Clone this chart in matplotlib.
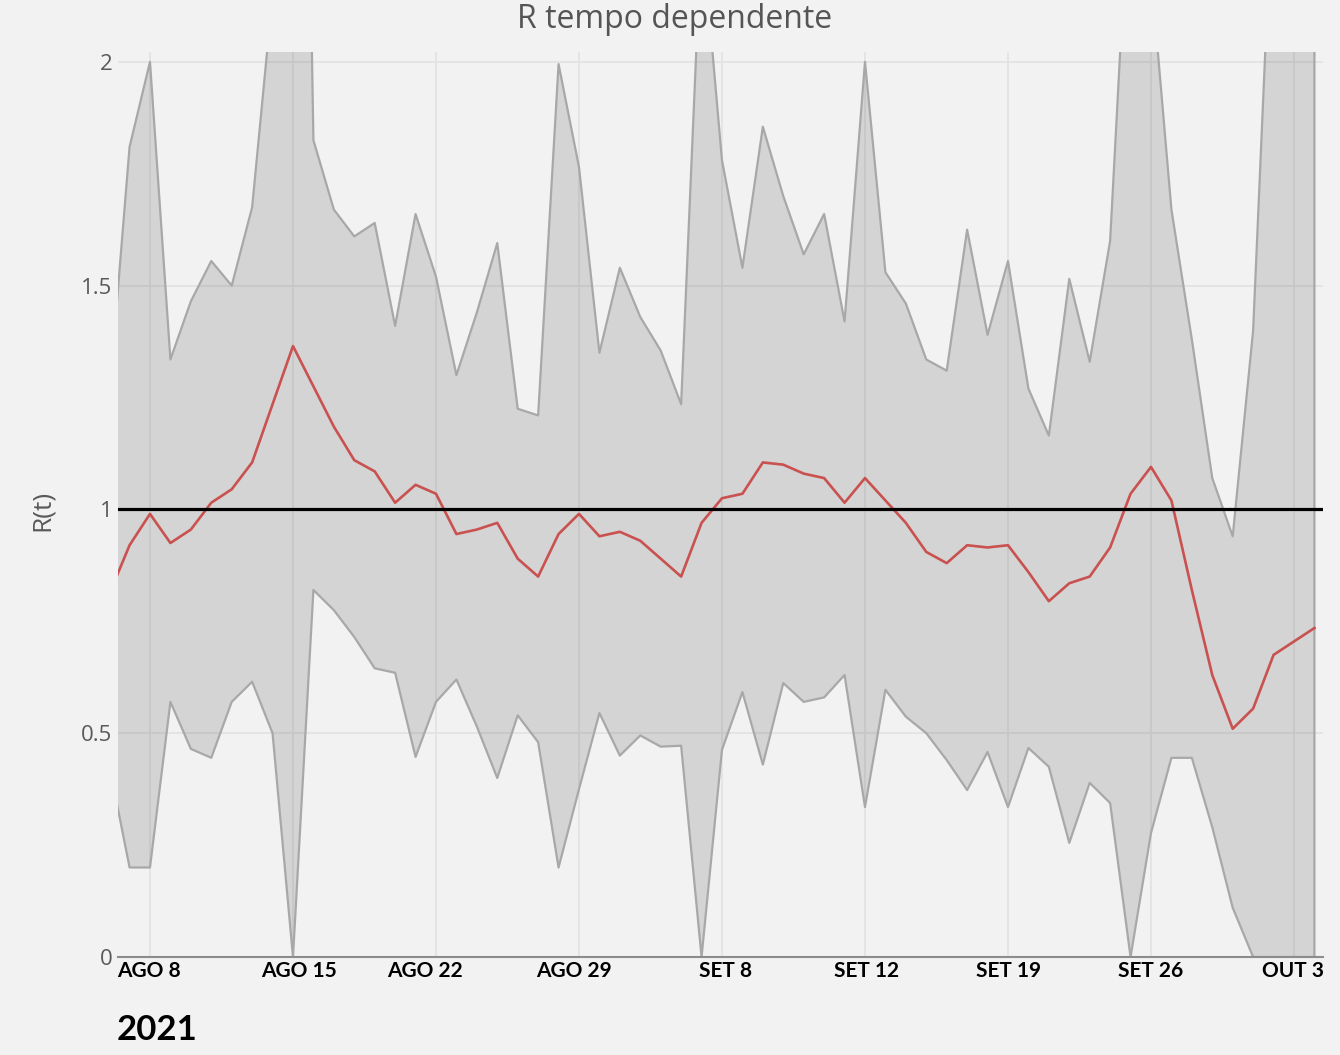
import matplotlib.pyplot as plt
import matplotlib.transforms as mtransforms
import numpy as np

# day 0 = 8 Aug 2021
days = np.arange(-2, 58)

r_t = [0.81, 0.92, 0.99, 0.925, 0.955, 1.015, 1.045, 1.105, 1.235, 1.365,
       1.275, 1.185, 1.11, 1.085, 1.015, 1.055, 1.035, 0.945, 0.955, 0.97,
       0.89, 0.85, 0.945, 0.99, 0.94, 0.95, 0.93, 0.89, 0.85, 0.97,
       1.025, 1.035, 1.105, 1.10, 1.08, 1.07, 1.015, 1.07, 1.02, 0.97,
       0.905, 0.88, 0.92, 0.915, 0.92, 0.86, 0.795, 0.835, 0.85, 0.915,
       1.035, 1.095, 1.02, 0.82, 0.63, 0.51, 0.555, 0.675, 0.705, 0.735]

r_upper = [1.25, 1.81, 2.00, 1.335, 1.465, 1.555, 1.50, 1.675, 2.15, 4.5,
           1.825, 1.67, 1.61, 1.64, 1.41, 1.66, 1.52, 1.30, 1.44, 1.595,
           1.225, 1.21, 1.995, 1.765, 1.35, 1.54, 1.43, 1.355, 1.235, 2.3,
           1.78, 1.54, 1.855, 1.70, 1.57, 1.66, 1.42, 2.0, 1.53, 1.46,
           1.335, 1.31, 1.625, 1.39, 1.555, 1.27, 1.165, 1.515, 1.33, 1.60,
           2.46, 2.2, 1.67, 1.38, 1.07, 0.94, 1.40, 2.45, 2.7, 2.9]

r_lower = [0.43, 0.20, 0.20, 0.57, 0.465, 0.445, 0.57, 0.615, 0.50, 0.0,
           0.82, 0.775, 0.715, 0.645, 0.635, 0.447, 0.57, 0.62, 0.515, 0.40,
           0.54, 0.48, 0.20, 0.375, 0.545, 0.45, 0.495, 0.47, 0.472, 0.0,
           0.463, 0.592, 0.43, 0.612, 0.57, 0.58, 0.63, 0.335, 0.597, 0.537,
           0.50, 0.44, 0.373, 0.458, 0.335, 0.467, 0.425, 0.255, 0.389, 0.344,
           0.0, 0.277, 0.445, 0.445, 0.29, 0.11, 0.0, 0.0, 0.0, 0.0]

tick_days = [0, 7, 14, 21, 28, 35, 42, 49, 56]
tick_labels = ["AGO 8", "AGO 15", "AGO 22", "AGO 29", "SET 8",
               "SET 12", "SET 19", "SET 26", "OUT 3"]
# the date labels were placed by hand, a few pixels off their gridlines
label_shift_px = [-1, 5.5, -11, -5.5, 4, 2, 1, 0, -1]
y_ticks = [0, 0.5, 1, 1.5, 2]
y_tick_labels = ["0", "0.5", "1", "1.5", "2"]

bg = "#f2f2f2"
W, H = 1340, 1055
fig = plt.figure(figsize=(W / 100, H / 100), dpi=100, facecolor=bg)
ax = fig.add_axes([118 / W, (H - 957) / H, (1323 - 118) / W, (957 - 52) / H])
ax.set_facecolor(bg)

ax.fill_between(days, r_lower, r_upper, facecolor=(0, 0, 0, 0.12),
                edgecolor="#a8a8a8", lw=1.6, zorder=2)
ax.plot(days, r_t, color="#c9514f", lw=1.9, zorder=3)
ax.axhline(1, color="black", lw=2.3, zorder=4)

ax.set_xlim(-1.566, 57.42)
ax.set_ylim(0, 2.022)
ax.set_axisbelow(True)
ax.grid(True, color="#e2e2e2", lw=1.2)

ax.set_xticks(tick_days, tick_labels, fontfamily="Lato", fontweight="bold",
              fontsize=15, color="black")
ax.set_yticks(y_ticks, y_tick_labels, fontfamily="Open Sans", fontsize=16,
              color="#5a5a5a")
ax.tick_params(axis="x", length=0, pad=3)
ax.tick_params(axis="y", length=0, pad=4)

for lab, dx in zip(ax.get_xticklabels(), label_shift_px):
    offset = mtransforms.ScaledTranslation(dx / 100, 0, fig.dpi_scale_trans)
    lab.set_transform(lab.get_transform() + offset)

for side in ["left", "right", "top"]:
    ax.spines[side].set_visible(False)
ax.spines["bottom"].set_color("#8c8c8c")
ax.spines["bottom"].set_linewidth(1.5)

fig.text(675 / W, 1 - 28 / H, "R tempo dependente", ha="center", va="baseline",
         fontsize=23, color="#555555", family="Open Sans")
fig.text(42 / W, (H - 510) / H, "R(t)", rotation=90, ha="center", va="center",
         fontsize=19, color="#5a5a5a", family="Open Sans")
fig.text(117 / W, 15 / H, "2021", ha="left", va="baseline", fontsize=25,
         fontweight="bold", family="Lato", color="black")

fig.savefig("out.png", dpi=100, facecolor=bg)
